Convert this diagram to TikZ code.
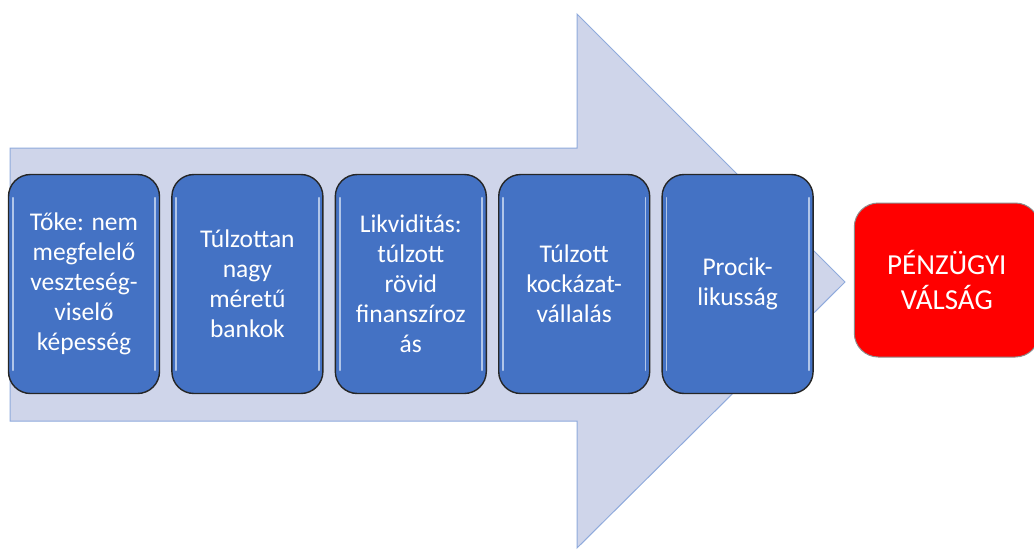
\documentclass[tikz,border=0pt]{standalone}
\usepackage{fontspec}
\setmainfont{Carlito}
\usetikzlibrary{positioning}

\definecolor{arrowfill}{HTML}{CFD5EA}
\definecolor{arrowedge}{HTML}{8FAADC}
\definecolor{boxblue}{HTML}{4472C4}
\definecolor{boxshine}{HTML}{C5D5F0}

\begin{document}
\begin{tikzpicture}[x=1pt, y=-1pt,
    factor/.style={draw=black!85, line width=1.4pt, fill=boxblue,
        rounded corners=22pt, minimum width=151pt, minimum height=219pt,
        inner sep=0pt, align=center, text=white,
        font=\fontsize{25.5}{30}\selectfont},
    crisis/.style={draw=black!45, line width=1pt, fill=red,
        rounded corners=24pt, minimum width=185pt, minimum height=154pt,
        inner sep=0pt, align=center, text=white,
        font=\fontsize{29}{35}\selectfont},
    shine/.style={boxshine, line width=1.8pt, line cap=round, opacity=0.85}]

    % Page frame
    \useasboundingbox (0,0) rectangle (1034,550);

    % Big background arrow
    \draw[fill=arrowfill, draw=arrowedge, line width=1pt]
        (10,148) -- (577,148) -- (577,14) -- (845,282)
        -- (577,548) -- (577,421) -- (10,421) -- cycle;

    % Causes
    \node[factor] (toke) at (84,284)
        {Tőke: nem\\megfelelő\\veszteség-\\viselő\\képesség};
    \node[factor, right=11pt of toke] (meret)
        {Túlzottan\\nagy\\méretű\\bankok};
    \node[factor, right=11pt of meret] (likvid)
        {Likviditás:\\túlzott\\rövid\\finanszíroz\\ás};
    \node[factor, right=11pt of likvid] (kockazat)
        {Túlzott\\kockázat-\\vállalás};
    \node[factor, right=11pt of kockazat] (prociklus)
        {Procik-\\likusság};

    % Outcome
    \node[crisis, right=40pt of prociklus, yshift=4pt] (valsag)
        {PÉNZÜGYI\\VÁLSÁG};

    % Glossy edges on the blue boxes
    \foreach \b in {toke, meret, likvid, kockazat, prociklus} {
        \draw[shine] ([xshift=5pt, yshift=-24pt]\b.north west)
            -- ([xshift=5pt, yshift=24pt]\b.south west);
        \draw[shine] ([xshift=-5pt, yshift=-24pt]\b.north east)
            -- ([xshift=-5pt, yshift=24pt]\b.south east);
    }

\end{tikzpicture}
\end{document}
